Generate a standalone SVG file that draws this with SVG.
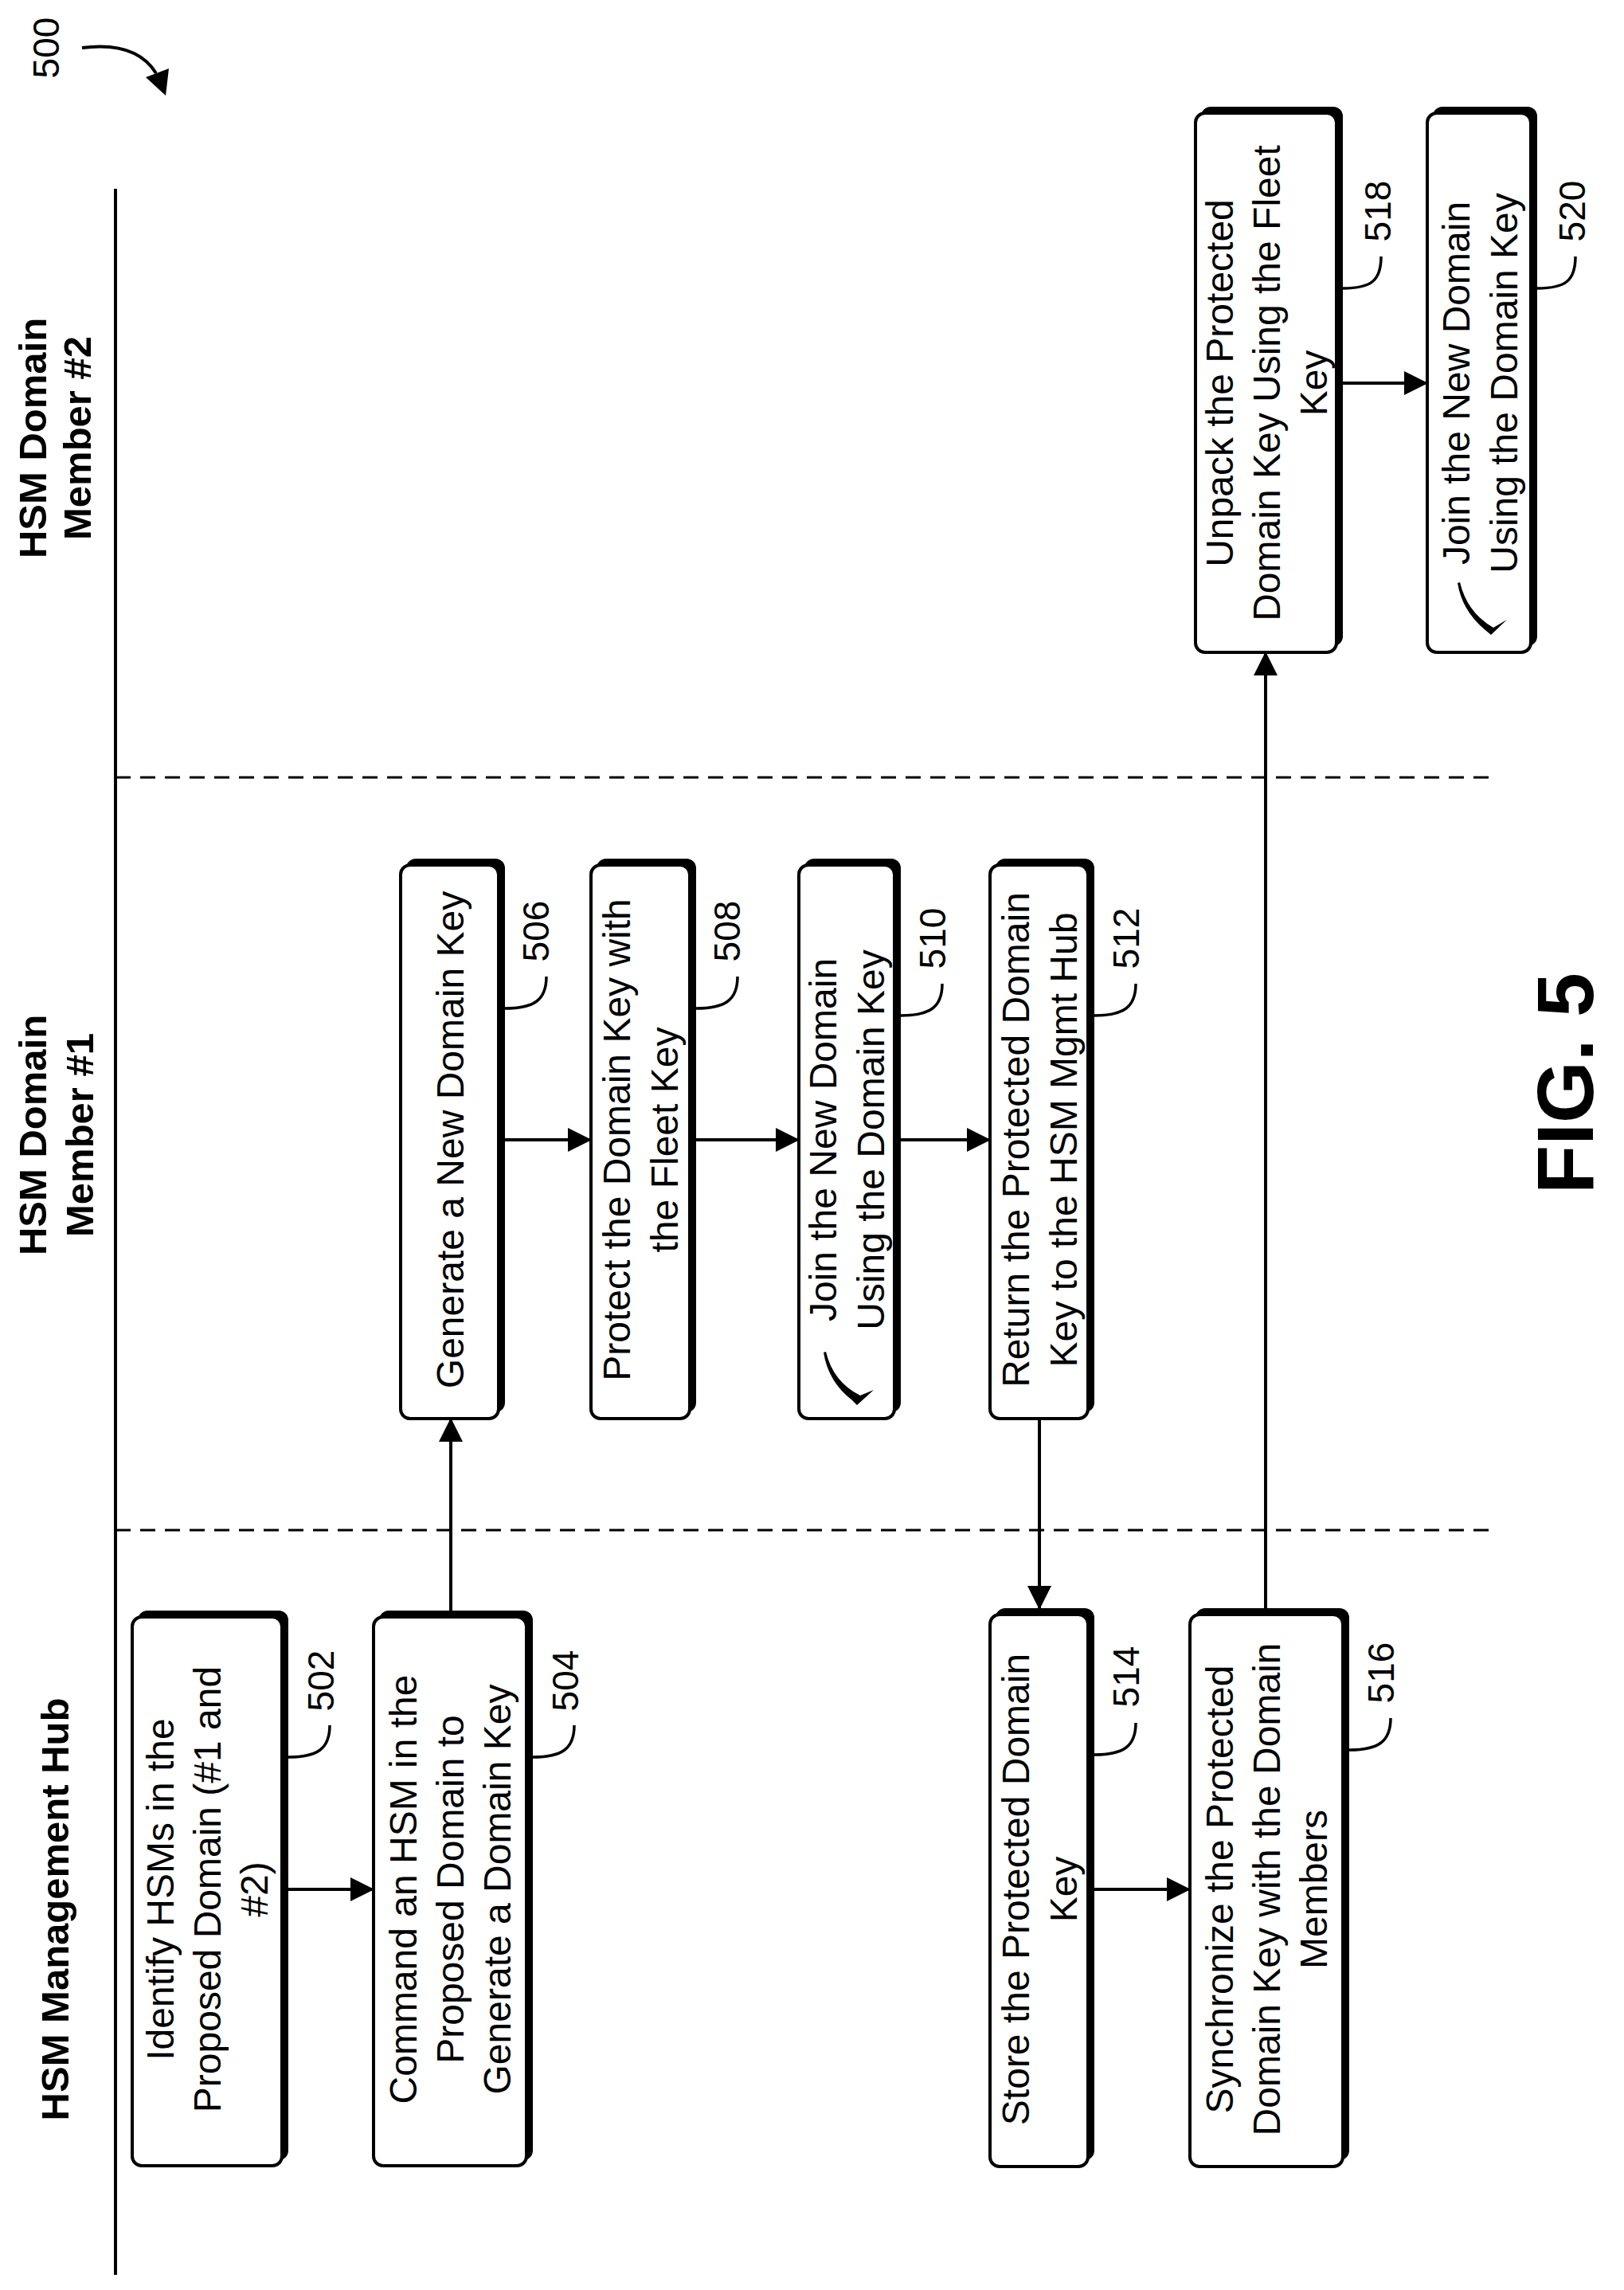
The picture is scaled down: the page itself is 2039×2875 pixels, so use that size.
<svg xmlns="http://www.w3.org/2000/svg" width="2039" height="2875" viewBox="0 0 2039 2875">
<style>
.t{font-family:"Liberation Sans",Arial,sans-serif;font-size:48px;fill:#000;text-anchor:middle;dominant-baseline:central}
.h{font-family:"Liberation Sans",Arial,sans-serif;font-size:49px;font-weight:bold;fill:#000;text-anchor:middle;dominant-baseline:central}
.n{font-family:"Liberation Sans",Arial,sans-serif;font-size:46px;fill:#000;text-anchor:middle;dominant-baseline:central}
.sh{fill:#000}
.bx{fill:#fff;stroke:#000;stroke-width:4}
.c{stroke:#000;stroke-width:4;fill:none}
.d{stroke:#000;stroke-width:3;fill:none;stroke-dasharray:19 12}
.ld{stroke:#000;stroke-width:3.5;fill:none}
</style>
<defs>
<marker id="ah" markerWidth="10" markerHeight="10" refX="9" refY="5" orient="auto" markerUnits="userSpaceOnUse" viewBox="0 0 10 10">
<path d="M0,0 L10,5 L0,10 Z" fill="#000"/>
</marker>
<marker id="a" markerWidth="30" markerHeight="30" refX="29" refY="15" orient="auto" markerUnits="userSpaceOnUse">
<path d="M0,0 L30,15 L0,30 Z" fill="#000"/>
</marker>
</defs>

<g id="frame">
<line class="c" x1="145" y1="237" x2="145" y2="2856"/>
<line class="d" x1="145" y1="976" x2="1870" y2="976"/>
<line class="d" x1="145" y1="1921" x2="1872" y2="1921"/>
<text class="n" transform="translate(58,60) rotate(-90)">500</text>
<path class="c" d="M103,60 C150,54 180,66 196,92"/>
<path d="M183,97 L212,86 L208,120 Z" fill="#000"/>
<text class="h" transform="translate(1965,1360) rotate(-90)" style="font-size:100px">FIG. 5</text>
</g>

<g id="headers">
<text class="h" transform="translate(69,2397) rotate(-90)">HSM Management Hub</text>
<g transform="translate(70,1425) rotate(-90)"><text class="h" x="0" y="-29">HSM Domain</text><text class="h" x="0" y="30">Member #1</text></g>
<g transform="translate(69,550) rotate(-90)"><text class="h" x="0" y="-28">HSM Domain</text><text class="h" x="0" y="28">Member #2</text></g>
</g>

<g id="connectors">
<line class="c" x1="362" y1="2372" x2="469" y2="2372" marker-end="url(#a)"/>
<line class="c" x1="566" y1="2022" x2="566" y2="1781" marker-end="url(#a)"/>
<line class="c" x1="634" y1="1431" x2="742" y2="1431" marker-end="url(#a)"/>
<line class="c" x1="874" y1="1431" x2="1003" y2="1431" marker-end="url(#a)"/>
<line class="c" x1="1131" y1="1431" x2="1243" y2="1431" marker-end="url(#a)"/>
<line class="c" x1="1305" y1="1781" x2="1305" y2="2020" marker-end="url(#a)"/>
<line class="c" x1="1374" y1="2372" x2="1494" y2="2372" marker-end="url(#a)"/>
<line class="c" x1="1589" y1="2020" x2="1589" y2="819" marker-end="url(#a)"/>
<line class="c" x1="1686" y1="481" x2="1792" y2="481" marker-end="url(#a)"/>
</g>

<g id="n502">
<rect class="sh" x="173" y="2022" width="189" height="690" rx="12"/>
<rect class="bx" x="166" y="2030" width="188" height="689" rx="12"/>
<g transform="translate(260,2372) rotate(-90)"><text class="t" y="-59">Identify HSMs in the</text><text class="t" y="0">Proposed Domain (#1 and</text><text class="t" y="59">#2)</text></g>
<path class="ld" d="M362,2206 C398,2206 414,2196 414,2166"/>
<text class="n" transform="translate(403,2110) rotate(-90)">502</text>
</g>

<g id="n504">
<rect class="sh" x="476" y="2022" width="193" height="690" rx="12"/>
<rect class="bx" x="469" y="2030" width="192" height="689" rx="12"/>
<g transform="translate(565,2372) rotate(-90)"><text class="t" y="-59">Command an HSM in the</text><text class="t" y="0">Proposed Domain to</text><text class="t" y="59">Generate a Domain Key</text></g>
<path class="ld" d="M669,2206 C705,2206 721,2196 721,2166"/>
<text class="n" transform="translate(710,2110) rotate(-90)">504</text>
</g>

<g id="n506">
<rect class="sh" x="510" y="1078" width="124" height="695" rx="12"/>
<rect class="bx" x="503" y="1086" width="123" height="695" rx="12"/>
<text class="t" transform="translate(565,1431) rotate(-90)">Generate a New Domain Key</text>
<path class="ld" d="M634,1266 C670,1266 686,1256 686,1226"/>
<text class="n" transform="translate(673,1169) rotate(-90)">506</text>
</g>

<g id="n508">
<rect class="sh" x="749" y="1078" width="125" height="695" rx="12"/>
<rect class="bx" x="742" y="1086" width="124" height="695" rx="12"/>
<g transform="translate(804,1431) rotate(-90)"><text class="t" y="-30">Protect the Domain Key with</text><text class="t" y="30">the Fleet Key</text></g>
<path class="ld" d="M874,1266 C910,1266 926,1256 926,1226"/>
<text class="n" transform="translate(913,1169) rotate(-90)">508</text>
</g>

<g id="n510">
<rect class="sh" x="1010" y="1078" width="121" height="695" rx="12"/>
<rect class="bx" x="1003" y="1086" width="120" height="695" rx="12"/>
<g transform="translate(1063,1431) rotate(-90)"><text class="t" y="-30">Join the New Domain</text><text class="t" y="30">Using the Domain Key</text></g>
<path d="M1037,1697 Q1046,1735 1080,1752 L1097,1745 L1076,1764 L1070,1758 Q1040,1735 1034,1698 Z" fill="#000"/>
<path class="ld" d="M1131,1275 C1167,1275 1183,1265 1183,1235"/>
<text class="n" transform="translate(1171,1178) rotate(-90)">510</text>
</g>

<g id="n512">
<rect class="sh" x="1250" y="1078" width="124" height="695" rx="12"/>
<rect class="bx" x="1243" y="1086" width="123" height="695" rx="12"/>
<g transform="translate(1305,1431) rotate(-90)"><text class="t" y="-30">Return the Protected Domain</text><text class="t" y="30">Key to the HSM Mgmt Hub</text></g>
<path class="ld" d="M1374,1275 C1410,1275 1426,1265 1426,1235"/>
<text class="n" transform="translate(1414,1178) rotate(-90)">512</text>
</g>

<g id="n514">
<rect class="sh" x="1250" y="2019" width="124" height="693" rx="12"/>
<rect class="bx" x="1243" y="2027" width="123" height="693" rx="12"/>
<g transform="translate(1305,2372) rotate(-90)"><text class="t" y="-30">Store the Protected Domain</text><text class="t" y="30">Key</text></g>
<path class="ld" d="M1374,2203 C1410,2203 1426,2193 1426,2163"/>
<text class="n" transform="translate(1414,2105) rotate(-90)">514</text>
</g>

<g id="n516">
<rect class="sh" x="1501" y="2019" width="193" height="693" rx="12"/>
<rect class="bx" x="1494" y="2027" width="192" height="693" rx="12"/>
<g transform="translate(1590,2372) rotate(-90)"><text class="t" y="-59">Synchronize the Protected</text><text class="t" y="0">Domain Key with the Domain</text><text class="t" y="59">Members</text></g>
<path class="ld" d="M1694,2197 C1730,2197 1746,2187 1746,2157"/>
<text class="n" transform="translate(1734,2100) rotate(-90)">516</text>
</g>

<g id="n518">
<rect class="sh" x="1508" y="134" width="178" height="677" rx="12"/>
<rect class="bx" x="1501" y="142" width="177" height="677" rx="12"/>
<g transform="translate(1590,481) rotate(-90)"><text class="t" y="-59">Unpack the Protected</text><text class="t" y="0">Domain Key Using the Fleet</text><text class="t" y="59">Key</text></g>
<path class="ld" d="M1686,362 C1722,362 1734,352 1734,322"/>
<text class="n" transform="translate(1730,265) rotate(-90)">518</text>
</g>

<g id="n520">
<rect class="sh" x="1799" y="134" width="131" height="677" rx="12"/>
<rect class="bx" x="1792" y="142" width="130" height="677" rx="12"/>
<g transform="translate(1858,481) rotate(-90)"><text class="t" y="-30">Join the New Domain</text><text class="t" y="30">Using the Domain Key</text></g>
<path d="M1833,731 Q1842,769 1875,788 L1892,778 L1872,797 L1866,792 Q1836,768 1830,732 Z" fill="#000"/>
<path class="ld" d="M1930,362 C1966,362 1978,352 1978,322"/>
<text class="n" transform="translate(1974,265) rotate(-90)">520</text>
</g>
</svg>
